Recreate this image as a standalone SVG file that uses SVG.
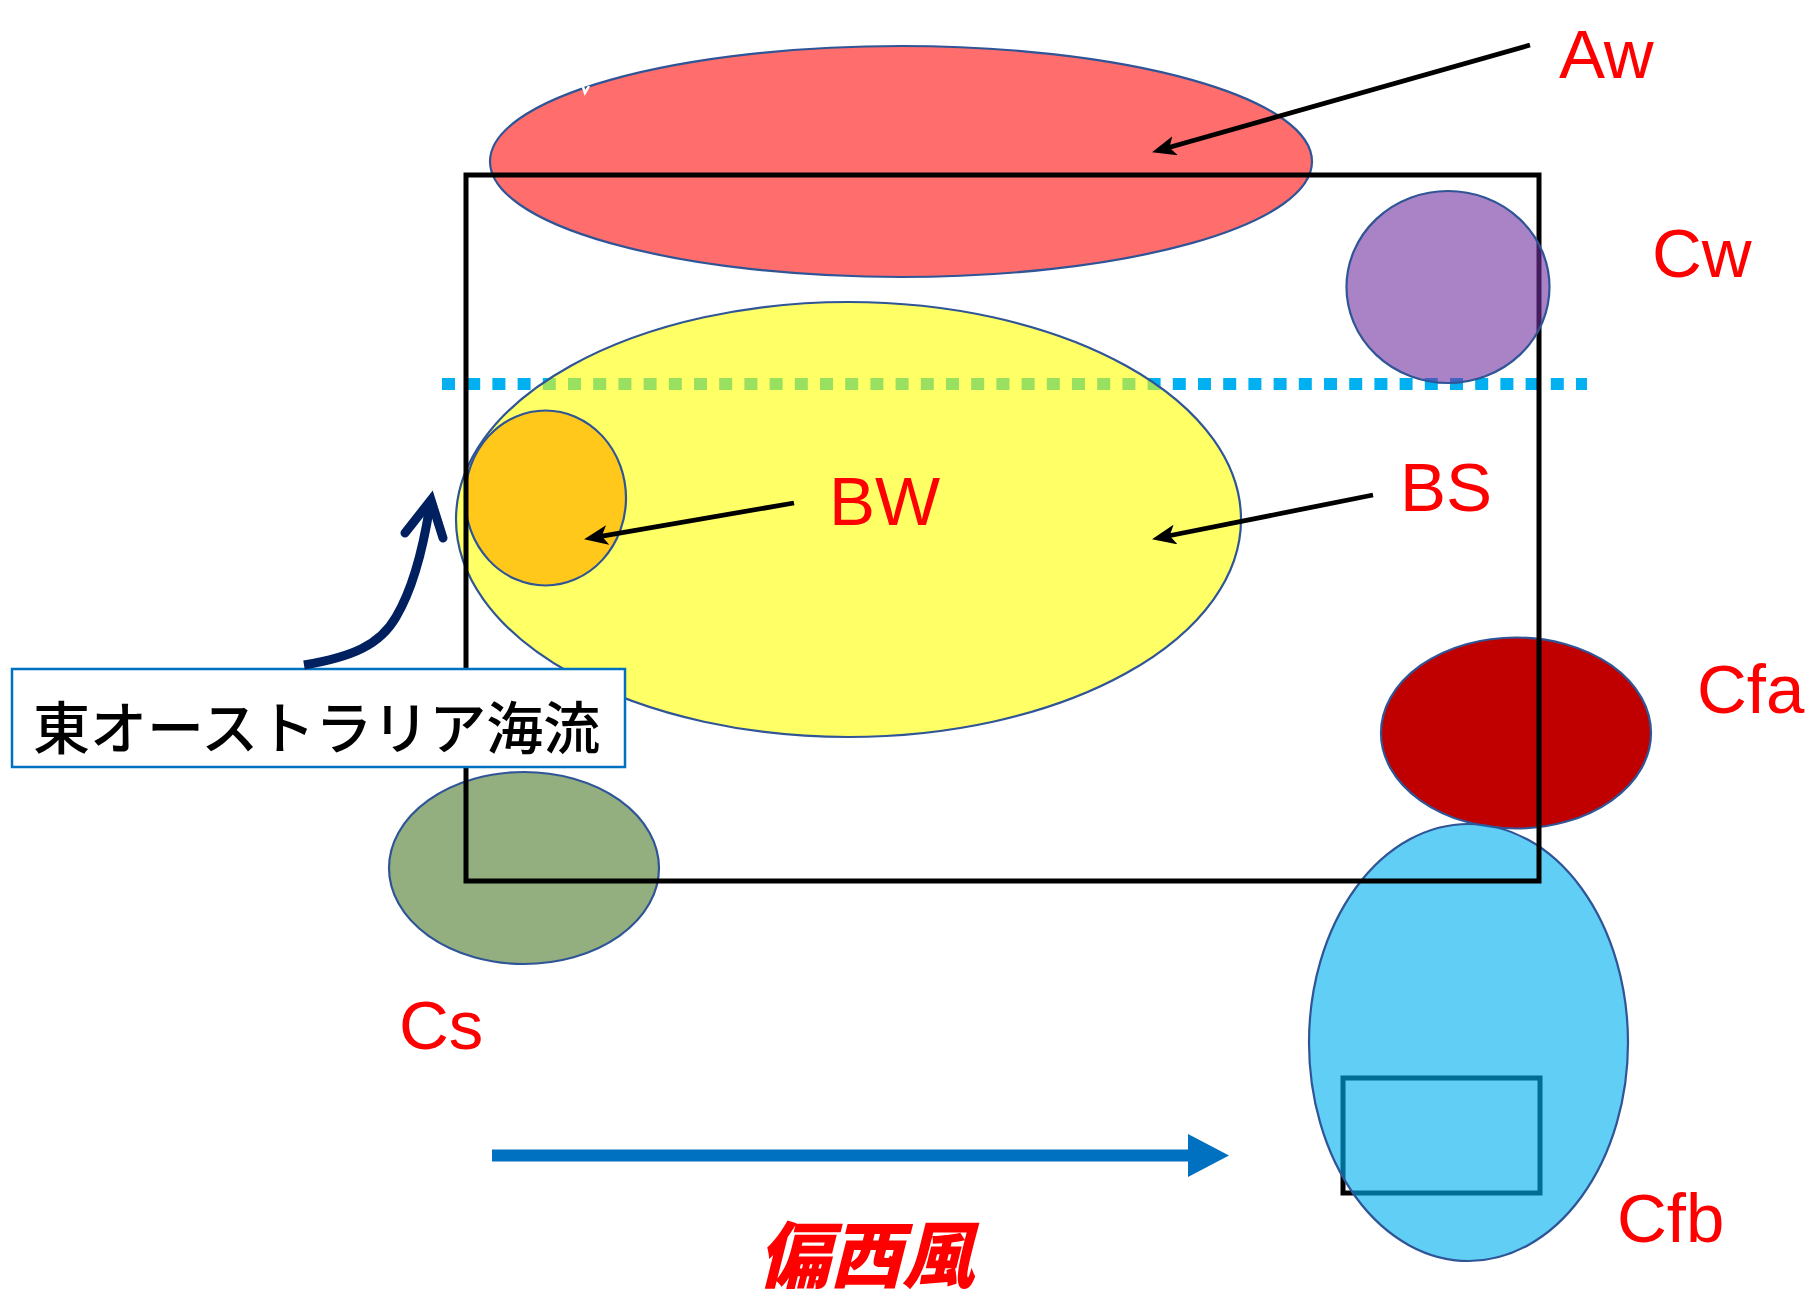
<svg xmlns="http://www.w3.org/2000/svg" width="1805" height="1300" viewBox="0 0 1805 1300">
<style>
.zone{stroke:#2F5597;stroke-width:2.2}
.lbl{font-family:"Liberation Sans",Arial,sans-serif;font-size:69px;fill:#FF0000}
.ptr{stroke:#000;stroke-width:4.8;fill:none}
</style>
<defs>
<marker id="stealth" markerUnits="userSpaceOnUse" markerWidth="24" markerHeight="20" viewBox="0 0 24 20" refX="13" refY="10" orient="auto">
<path d="M24,10 L0,0 L6,10 L0,20 z" fill="#000"/>
</marker>
</defs>
<rect width="1805" height="1300" fill="#fff"/>

<g id="dotted-line">
<line x1="442" y1="384" x2="1587" y2="384" stroke="#00B0F0" stroke-width="12" stroke-dasharray="13 12.2"/>
</g>

<g id="Aw-zone">
<ellipse class="zone" cx="901" cy="161.5" rx="411" ry="115.5" fill="#FF6D6D"/>
<path d="M582,84 L585,93 L589,86" stroke="#fff" stroke-width="2.5" fill="none"/>
</g>
<g id="BS-zone">
<ellipse class="zone" cx="848.5" cy="519.5" rx="392.5" ry="217.5" fill="#FFFF00" fill-opacity="0.6"/>
</g>
<g id="BW-zone">
<ellipse class="zone" cx="545.5" cy="498" rx="80.5" ry="87.5" fill="#FFC81A"/>
</g>
<g id="Cs-zone">
<ellipse class="zone" cx="524" cy="868" rx="135" ry="96" fill="#94AF7F"/>
</g>
<g id="Cfa-zone">
<ellipse class="zone" cx="1516" cy="733" rx="135" ry="95.5" fill="#C00000"/>
</g>
<g id="Cfb-zone">
<rect x="1343" y="1078" width="197" height="115" fill="none" stroke="#000" stroke-width="5"/>
<ellipse class="zone" cx="1468.5" cy="1042.5" rx="159.5" ry="218.5" fill="#00B0F0" fill-opacity="0.62"/>
</g>
<g id="australia-frame">
<rect x="466" y="175" width="1073" height="706" fill="none" stroke="#000" stroke-width="5"/>
</g>
<g id="Cw-zone">
<ellipse class="zone" cx="1448" cy="287" rx="101.5" ry="96" fill="#7030A0" fill-opacity="0.6"/>
</g>

<g id="current-label">
<rect x="12" y="669" width="613" height="98" fill="#fff" stroke="#0070C0" stroke-width="2.5"/>
<text x="33" y="749" font-family="'Noto Sans CJK JP',sans-serif" font-size="57" font-weight="500" fill="#000">東オーストラリア海流</text>
</g>

<g id="connectors">
<line class="ptr" x1="1530" y1="45" x2="1162.6" y2="149.3" marker-end="url(#stealth)"/>
<line class="ptr" x1="794" y1="503" x2="594.9" y2="537.3" marker-end="url(#stealth)"/>
<line class="ptr" x1="1373" y1="495" x2="1162.8" y2="537" marker-end="url(#stealth)"/>
<path d="M304,665 C352,657 380,645 396,617 C412,590 423,550 430,505" fill="none" stroke="#002060" stroke-width="9"/>
<path d="M405,533 L431,500 L443,538" fill="none" stroke="#002060" stroke-width="9" stroke-linecap="round" stroke-linejoin="miter"/>
<g id="westerlies-arrow">
<rect x="492" y="1149.5" width="698" height="12" fill="#0070C0"/>
<polygon points="1188,1134 1229,1155.5 1188,1177" fill="#0070C0"/>
</g>
</g>

<g id="labels">
<text class="lbl" x="1559" y="78">Aw</text>
<text class="lbl" x="1652" y="277">Cw</text>
<text class="lbl" x="829" y="525">BW</text>
<text class="lbl" x="1400" y="511">BS</text>
<text class="lbl" x="1697" y="713">Cfa</text>
<text class="lbl" x="399" y="1049">Cs</text>
<text class="lbl" x="1617" y="1242">Cfb</text>
<text x="866" y="1282" text-anchor="middle" font-family="'Noto Sans CJK JP',sans-serif" font-size="72" font-weight="900" font-style="italic" fill="#FF0000">偏西風</text>
</g>
</svg>
